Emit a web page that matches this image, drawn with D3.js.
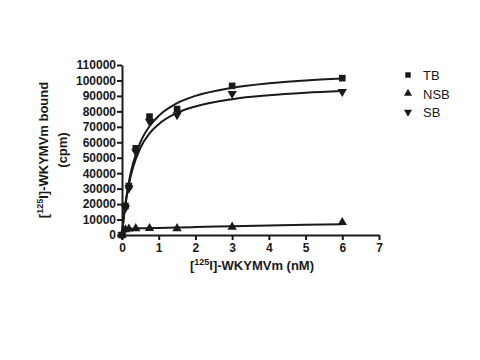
<!DOCTYPE html>
<head>
  <meta charset="utf-8">
  <script src="https://d3js.org/d3.v7.min.js"></script>
  <style>
    body { margin:0; background:#fff; }
    text { font-family: "Liberation Sans", Arial, sans-serif; fill:#1a1a1a; }
    .axis path, .axis line { stroke:#1a1a1a; stroke-width:2px; }
    .axis text { font-size:12px; font-weight:bold; }
    .fit { fill:none; stroke:#1a1a1a; stroke-width:2px; }
  </style>
</head>
<body>
  <script>
    // measured points (nM, cpm)
    var conc = [0, 0.094, 0.1875, 0.375, 0.75, 1.5, 3, 6];
    var tb   = [0, 18800, 31700, 56100, 76600, 81500, 96500, 101500];
    var nsb  = [0, 3500, 4000, 4200, 4300, 4200, 5200, 8200];
    var sb   = [0, 17500, 30200, 54000, 73500, 77700, 91500, 92800];

    // fitted curves
    var fitX   = [0, 0.05, 0.1, 0.2, 0.3, 0.5, 0.75, 1, 1.5, 2, 3, 4, 5, 6];
    var fitTB  = [0, 12000, 21600, 36000, 46300, 60000, 70400, 77100, 85300, 90000, 95300, 98200, 100000, 101250];
    var fitSB  = [0, 11500, 20600, 34100, 43700, 56300, 65700, 71700, 79000, 83200, 87900, 90400, 92000, 93100];
    var fitNSB = [0, 2500, 3800, 4000, 4100, 4300, 4400, 4600, 4900, 5100, 5700, 6200, 6600, 7000];

    var xTicks = [0, 1, 2, 3, 4, 5, 6, 7];
    var yTicks = d3.range(0, 110001, 10000);

    var svg = d3.select("body").append("svg")
        .attr("width", 480)
        .attr("height", 360);

    var x = d3.scaleLinear().domain([0, 7]).range([122, 379]);
    var y = d3.scaleLinear().domain([0, 110000]).range([235, 65]);

    svg.append("g")
        .attr("class", "axis")
        .attr("transform", "translate(0,235)")
        .call(d3.axisBottom(x).tickValues(xTicks).tickFormat(d3.format("d")).tickSize(5).tickSizeOuter(0).tickPadding(3));

    svg.append("g")
        .attr("class", "axis")
        .attr("transform", "translate(122,0)")
        .call(d3.axisLeft(y).tickValues(yTicks).tickFormat(d3.format("d")).tickSize(5).tickSizeOuter(0).tickPadding(1));

    // axis titles
    var xt = svg.append("text")
        .attr("x", 252).attr("y", 270)
        .attr("text-anchor", "middle")
        .style("font-size", "13px").style("font-weight", "bold");
    xt.append("tspan").text("[");
    xt.append("tspan").attr("dy", -5).style("font-size", "9px").text("125");
    xt.append("tspan").attr("dy", 5).text("I]-WKYMVm (nM)");

    var yt = svg.append("text")
        .attr("transform", "translate(48,150) rotate(-90)")
        .attr("text-anchor", "middle")
        .style("font-size", "13px").style("font-weight", "bold");
    yt.append("tspan").text("[");
    yt.append("tspan").attr("dy", -5).style("font-size", "9px").text("125");
    yt.append("tspan").attr("dy", 5).text("I]-WKYMVm bound");
    svg.append("text")
        .attr("transform", "translate(67,150) rotate(-90)")
        .attr("text-anchor", "middle")
        .style("font-size", "13px").style("font-weight", "bold")
        .text("(cpm)");

    var line = d3.line()
        .x(function(d) { return x(d[0]); })
        .y(function(d) { return y(d[1]); })
        .curve(d3.curveMonotoneX);

    [fitTB, fitSB, fitNSB].forEach(function(f) {
      svg.append("path")
          .attr("class", "fit")
          .attr("d", line(fitX.map(function(v, i) { return [v, f[i]]; })));
    });

    var sym = {
      tb: d3.symbol().type(d3.symbolSquare).size(44),
      nsb: d3.symbol().type(d3.symbolTriangle).size(38),
      sb: d3.symbol().type(d3.symbolTriangle).size(38)
    };
    var series = [
      {key: "tb", name: "TB", vals: tb, rot: 0},
      {key: "nsb", name: "NSB", vals: nsb, rot: 0},
      {key: "sb", name: "SB", vals: sb, rot: 180}
    ];

    series.forEach(function(s) {
      svg.append("g").selectAll("path").data(conc).enter()
        .append("path")
          .attr("d", sym[s.key]())
          .attr("transform", function(d, i) {
            return "translate(" + x(d) + "," + y(s.vals[i]) + ") rotate(" + s.rot + ")";
          })
          .style("fill", "#1a1a1a");
    });

    // legend
    var legSym = {
      tb: d3.symbol().type(d3.symbolSquare).size(30),
      nsb: d3.symbol().type(d3.symbolTriangle).size(28),
      sb: d3.symbol().type(d3.symbolTriangle).size(28)
    };
    var leg = svg.append("g").attr("transform", "translate(408,75)");
    series.forEach(function(s, i) {
      leg.append("path")
          .attr("d", legSym[s.key]())
          .attr("transform", "translate(0," + (i * 18.5) + ") rotate(" + s.rot + ")")
          .style("fill", "#1a1a1a");
      leg.append("text")
          .attr("x", 15).attr("y", i * 18.5 + 5)
          .style("font-size", "13px")
          .text(s.name);
    });
  </script>
</body>
